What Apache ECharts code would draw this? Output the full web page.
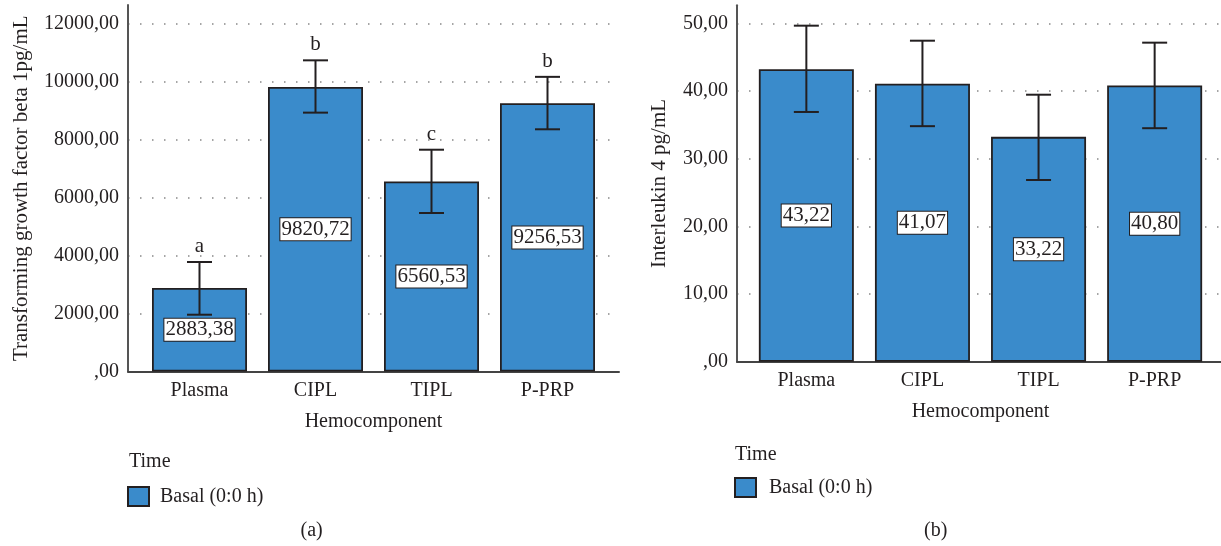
<!DOCTYPE html>
<html>
<head>
<meta charset="utf-8">
<script src="https://cdn.jsdelivr.net/npm/echarts@6/dist/echarts.min.js"></script>
<style>
html,body{margin:0;padding:0;background:#fff;}
#chart{width:1221px;height:546px;}
</style>
</head>
<body>
<div id="chart"></div>
<script>
// ---- Data ----
const categories = ['Plasma', 'CIPL', 'TIPL', 'P-PRP'];
const tgfMeans = [2883.38, 9820.72, 6560.53, 9256.53];
const tgfLow = [1960, 8935, 5470, 8360];
const tgfHigh = [3780, 10740, 7655, 10170];
const tgfLetters = ['a', 'b', 'c', 'b'];
const il4Means = [43.22, 41.07, 33.22, 40.80];
const il4Low = [36.9, 34.8, 26.85, 34.5];
const il4High = [49.65, 47.43, 39.45, 47.14];
const tgfTicks = { min: 0, max: 12650, interval: 2000 };
const il4Ticks = { min: 0, max: 52.66, interval: 10 };
const legendName = 'Basal (0:0 h)';

const FONT = 'Liberation Serif';
const TXT = '#231f20';
const BAR = '#3a8bcb';

function fmt(v) {
  if (v === 0) return ',00';
  return v.toFixed(2).replace('.', ',');
}

function errData(low, high, letters) {
  return low.map((l, i) => [i, l, high[i], letters ? letters[i] : '']);
}

function errRender(params, api) {
  const x = api.value(0);
  const lo = api.coord([x, api.value(1)]);
  const hi = api.coord([x, api.value(2)]);
  const half = 12.5;
  const style = { stroke: '#231f20', lineWidth: 2 };
  const children = [
    { type: 'line', shape: { x1: hi[0], y1: hi[1], x2: lo[0], y2: lo[1] }, style },
    { type: 'line', shape: { x1: hi[0] - half, y1: hi[1], x2: hi[0] + half, y2: hi[1] }, style },
    { type: 'line', shape: { x1: lo[0] - half, y1: lo[1], x2: lo[0] + half, y2: lo[1] }, style }
  ];
  const letter = api.value(3);
  if (letter) {
    children.push({
      type: 'text',
      style: {
        text: letter, x: hi[0], y: hi[1] - 5,
        align: 'center', verticalAlign: 'bottom',
        font: '21px "' + FONT + '"', fill: TXT
      }
    });
  }
  return { type: 'group', children };
}

function outerAxes(gridIndex, ticks, name, nameGap) {
  return {
    x: {
      type: 'value', gridIndex, min: 0, max: 1,
      axisLine: { show: true, lineStyle: { color: '#444', width: 2 } },
      axisTick: { show: false }, axisLabel: { show: false }, splitLine: { show: false }
    },
    y: {
      type: 'value', gridIndex, min: ticks.min, max: ticks.max, interval: ticks.interval,
      axisLine: { show: true, lineStyle: { color: '#555', width: 2 } },
      axisTick: { show: false },
      axisLabel: { showMaxLabel: false, margin: 9, color: TXT, fontFamily: FONT, fontSize: 20, formatter: fmt },
      splitLine: { show: true, showMaxLine: false, showMinLine: false,
        lineStyle: { color: '#888', width: 1.5, type: [1.5, 10.5] } },
      name, nameLocation: 'middle', nameGap, nameRotate: 90,
      nameTextStyle: { color: TXT, fontFamily: FONT, fontSize: 21 }
    }
  };
}

function innerAxes(gridIndex, ticks) {
  return {
    x: {
      type: 'category', gridIndex, data: categories,
      axisLine: { show: false }, axisTick: { show: false },
      axisLabel: { color: TXT, fontFamily: FONT, fontSize: 20, margin: 9 },
      name: 'Hemocomponent', nameLocation: 'middle', nameGap: 40,
      nameTextStyle: { color: TXT, fontFamily: FONT, fontSize: 20 }
    },
    y: { type: 'value', gridIndex, min: ticks.min, max: ticks.max, show: false, splitLine: { show: false } }
  };
}

const oL = outerAxes(0, tgfTicks, 'Transforming growth factor beta 1pg/mL', 96);
const iL = innerAxes(1, tgfTicks);
const oR = outerAxes(2, il4Ticks, 'Interleukin 4 pg/mL', 67);
const iR = innerAxes(3, il4Ticks);

function barSeries(xi, yi, data) {
  return {
    type: 'bar', name: legendName, xAxisIndex: xi, yAxisIndex: yi, data,
    barWidth: 95, z: 2,
    itemStyle: { color: BAR, borderColor: '#231f20', borderWidth: 1.8 },
    label: {
      show: true, position: 'inside', formatter: p => fmt(p.value),
      color: TXT, fontFamily: FONT, fontSize: 21, lineHeight: 21,
      backgroundColor: '#fff', borderColor: '#231f20', borderWidth: 1,
      padding: [1, 1, 0, 1]
    }
  };
}

function errSeries(xi, yi, data) {
  return {
    type: 'custom', xAxisIndex: xi, yAxisIndex: yi, data, z: 5,
    renderItem: errRender, encode: { x: 0, y: [1, 2] }, silent: true
  };
}

const titleStyle = { fontFamily: FONT, fontSize: 20, fontWeight: 'normal', color: TXT };

const option = {
  animation: false,
  backgroundColor: '#fff',
  textStyle: { fontFamily: FONT, color: TXT },
  grid: [
    { left: 128, top: 5, width: 491, height: 366.5 },
    { left: 141.5, top: 5, width: 464, height: 366.5 },
    { left: 737, top: 5.3, width: 491, height: 356.4 },
    { left: 748.3, top: 5.3, width: 464.4, height: 356.4 }
  ],
  xAxis: [oL.x, iL.x, oR.x, iR.x],
  yAxis: [oL.y, iL.y, oR.y, iR.y],
  title: [
    { text: 'Time', left: 129, top: 452, padding: 0, textStyle: titleStyle },
    { text: 'Time', left: 735, top: 445, padding: 0, textStyle: titleStyle },
    { text: '(a)', left: 300.5, top: 521, padding: 0, textStyle: titleStyle },
    { text: '(b)', left: 924, top: 521, padding: 0, textStyle: titleStyle }
  ],
  legend: [
    { data: [legendName], left: 127, top: 486, padding: 0, itemWidth: 21, itemHeight: 19, icon: 'rect',
      textStyle: { fontFamily: FONT, fontSize: 20, color: TXT, padding: [0, 0, 0, 6] } },
    { data: [legendName], left: 734, top: 477, padding: 0, itemWidth: 21, itemHeight: 19, icon: 'rect',
      textStyle: { fontFamily: FONT, fontSize: 20, color: TXT, padding: [0, 0, 0, 8] } }
  ],
  series: [
    barSeries(1, 1, tgfMeans),
    errSeries(1, 1, errData(tgfLow, tgfHigh, tgfLetters)),
    barSeries(3, 3, il4Means),
    errSeries(3, 3, errData(il4Low, il4High, null))
  ]
};

const chart = echarts.init(document.getElementById('chart'), null, { renderer: 'canvas' });
chart.setOption(option);
</script>
</body>
</html>
